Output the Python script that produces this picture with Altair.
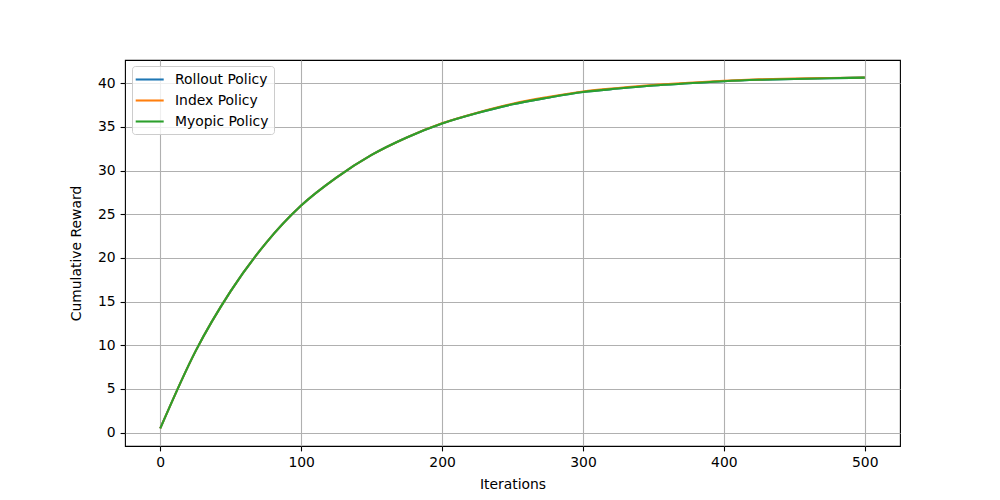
import altair as alt
import pandas as pd

iterations = [0, 25, 50, 75, 100, 125, 150, 175, 200, 225, 250, 275, 300,
              325, 350, 375, 400, 425, 450, 475, 500]
rollout = [0.47, 9.3, 16.2, 21.7, 26.0, 29.2, 31.8, 33.8, 35.4, 36.6, 37.6, 38.35, 39.0,
           39.4, 39.75, 40.0, 40.24, 40.4, 40.5, 40.58, 40.65]
index_p = [0.47, 9.3, 16.2, 21.7, 26.0, 29.2, 31.8, 33.8, 35.42, 36.64, 37.66, 38.42, 39.06,
           39.47, 39.81, 40.06, 40.29, 40.45, 40.55, 40.61, 40.66]
myopic = [0.47, 9.3, 16.2, 21.7, 26.0, 29.2, 31.8, 33.8, 35.4, 36.6, 37.6, 38.35, 39.0,
          39.4, 39.75, 40.0, 40.24, 40.4, 40.5, 40.58, 40.65]

policies = ["Rollout Policy", "Index Policy", "Myopic Policy"]
colors = ["#1f77b4", "#ff7f0e", "#2ca02c"]

rows = []
for name, vals in zip(policies, [rollout, index_p, myopic]):
    for it, v in zip(iterations, vals):
        rows.append({"Iterations": it, "Reward": v, "Policy": name})
df = pd.DataFrame(rows)

FONT = "DejaVu Sans"

chart = alt.Chart(df).mark_line(strokeWidth=2.08, interpolate="monotone").encode(
    x=alt.X("Iterations:Q",
            scale=alt.Scale(domain=[-25, 525], nice=False, zero=False),
            axis=alt.Axis(values=[0, 100, 200, 300, 400, 500], title="Iterations",
                          titlePadding=8)),
    y=alt.Y("Reward:Q",
            scale=alt.Scale(domain=[-1.54, 42.67], nice=False, zero=False),
            axis=alt.Axis(values=[0, 5, 10, 15, 20, 25, 30, 35, 40],
                          title="Cumulative Reward", titlePadding=14)),
    color=alt.Color("Policy:N",
                    scale=alt.Scale(domain=policies, range=colors),
                    sort=policies,
                    legend=alt.Legend(title=None, orient="none", legendX=7, legendY=6)),
).properties(
    width=775,
    height=386,
    autosize=alt.AutoSizeParams(type="none"),
    padding={"left": 117, "top": 52, "right": 92, "bottom": 46},
).configure_view(
    stroke="black", strokeWidth=1.1
).configure_axis(
    grid=True, gridColor="#b0b0b0", gridWidth=1.1,
    domain=False, ticks=True, tickColor="black", tickSize=4.9, tickWidth=1.1,
    labelFont=FONT, labelFontSize=13.9, labelColor="black", labelPadding=4.9,
    titleFont=FONT, titleFontSize=13.9, titleFontWeight="normal", titleColor="black",
).configure_legend(
    padding=5, rowPadding=5, strokeColor="#cccccc", fillColor="rgba(255,255,255,0.8)",
    cornerRadius=3, symbolType="M-1.4,0L2.6,0", symbolSize=196, symbolStrokeWidth=2.08,
    labelFont=FONT, labelFontSize=13.9, labelColor="black", labelOffset=21,
)

chart.save("out.html", embed_options={"renderer": "svg", "actions": False})
